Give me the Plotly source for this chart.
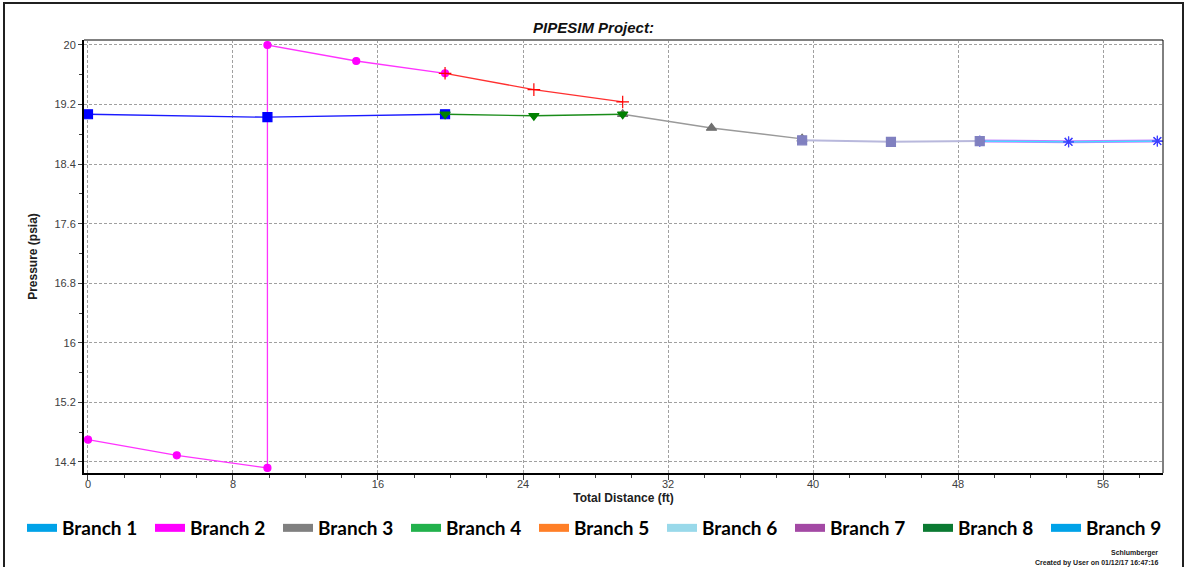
import plotly.graph_objects as go

# Pressure profile along the network (distance in ft, pressure in psia)
b1_x = [0, 9.9, 19.7]
b1_y = [19.07, 19.03, 19.07]

b2_x = [0, 4.9, 9.9, 9.9, 14.8, 19.7]
b2_y = [14.70, 14.49, 14.32, 20.0, 19.785, 19.62]

b5_x = [19.7, 24.6, 29.5]
b5_y = [19.62, 19.40, 19.235]

b4_x = [19.7, 24.6, 29.5]
b4_y = [19.07, 19.05, 19.07]

b3_x = [29.5, 34.4, 39.4]
b3_y = [19.07, 18.885, 18.74]

b6_x = [39.4, 44.3, 49.2]
b6_y = [18.72, 18.70, 18.71]

b7_x = [49.2, 54.1, 59.0]
b7_y = [18.71, 18.70, 18.71]

x_ticks = [0, 8, 16, 24, 32, 40, 48, 56]
y_ticks = [14.4, 15.2, 16.0, 16.8, 17.6, 18.4, 19.2, 20.0]
y_tick_text = ["14.4", "15.2", "16", "16.8", "17.6", "18.4", "19.2", "20"]

legend_names = ["Branch 1", "Branch 2", "Branch 3", "Branch 4", "Branch 5",
                "Branch 6", "Branch 7", "Branch 8", "Branch 9"]
legend_colors = ["#00a2e8", "#ff00ff", "#808080", "#22b14c", "#ff7f27",
                 "#99d9ea", "#a349a4", "#0b7a32", "#00a2e8"]

fig = go.Figure()


def profile(x, y, line_color, marker_color, symbol, size, width=1.3, name=None):
    fig.add_trace(go.Scatter(
        x=x, y=y, mode="lines+markers", name=name, showlegend=False,
        line=dict(color=line_color, width=width),
        marker=dict(color=marker_color, symbol=symbol, size=size,
                    line=dict(width=1.2, color=marker_color)),
        hoverinfo="x+y",
    ))


profile(b2_x, b2_y, "#ff33ff", "#ff00ff", "circle", 7, name="Branch 2")
profile(b5_x, b5_y, "#ff3030", "#ff0000", "cross-thin", 9, name="Branch 5")
profile(b1_x, b1_y, "#1a1aff", "#0000ff", "square", 9, name="Branch 1")
profile(b3_x, b3_y, "#9a9a9a", "#707070", "triangle-up", 9, name="Branch 3")
profile(b4_x, b4_y, "#1a8c1a", "#008000", "triangle-down", 9, name="Branch 4")
profile(b7_x, b7_y, "#c080ff", "#4040ff", "asterisk-open", 9, width=3, name="Branch 7")
profile(b7_x, b7_y, "#40e0ff", "#4040ff", "asterisk-open", 9, width=1.2, name="Branch 9")
profile(b6_x, b6_y, "#b8b8dc", "#8080c0", "square", 9, width=2, name="Branch 6")

# Legend entries (swatches only)
for name, color in zip(legend_names, legend_colors):
    fig.add_trace(go.Scatter(
        x=[None], y=[None], mode="lines", name=name,
        line=dict(color=color, width=8),
    ))

axis_font = dict(family="Liberation Sans, Arial, sans-serif", size=11, color="#404040")
title_font = dict(family="Liberation Sans, Arial, sans-serif", size=12, color="#202020")

fig.update_layout(
    width=1187, height=567,
    margin=dict(l=84, r=24, t=40, b=94),
    paper_bgcolor="white", plot_bgcolor="white",
    title=dict(
        text="<b><i>PIPESIM Project:</i></b>",
        x=0.5, xref="container", xanchor="center", y=1 - 28 / 567, yanchor="middle",
        font=dict(family="Liberation Sans, Arial, sans-serif", size=15, color="#111111"),
    ),
    xaxis=dict(
        range=[-0.22, 59.31], tickvals=x_ticks, ticks="outside", ticklen=5,
        tickcolor="#404040", tickfont=axis_font, ticklabelstandoff=-5,
        minor=dict(dtick=2, ticks="outside", ticklen=3, tickcolor="#404040", showgrid=False),
        showgrid=True, gridcolor="#a0a0a0", gridwidth=1, griddash="3px,2px",
        showline=True, linecolor="black", linewidth=2, zeroline=False,
        title=dict(text="<b>Total Distance (ft)</b>", font=title_font, standoff=4),
    ),
    yaxis=dict(
        range=[14.252, 20.067], tickvals=y_ticks, ticktext=y_tick_text,
        ticks="outside", ticklen=4, tickcolor="#404040", tickfont=axis_font,
        minor=dict(dtick=0.4, tick0=14.4, ticks="outside", ticklen=3,
                   tickcolor="#404040", showgrid=False),
        showgrid=True, gridcolor="#a0a0a0", gridwidth=1, griddash="3px,2px",
        showline=True, linecolor="black", linewidth=2, zeroline=False,
        title=dict(text="<b>Pressure (psia)</b>", font=title_font, standoff=14),
    ),
    legend=dict(
        orientation="h", x=(22 - 84) / 1079, xanchor="left",
        y=-(528 - 473) / 433, yanchor="middle",
        entrywidth=83, entrywidthmode="pixels",
        font=dict(family="Lato, sans-serif", size=19, color="#000000", weight="bold"),
        bgcolor="rgba(0,0,0,0)", itemclick=False,
    ),
    shapes=[
        # top edge of the plot box
        dict(type="line", xref="paper", yref="paper", x0=0, x1=1, y0=1, y1=1,
             line=dict(color="#808080", width=2)),
        # right edge of the plot box
        dict(type="line", xref="paper", yref="paper", x0=1, x1=1, y0=0, y1=1,
             line=dict(color="black", width=1)),
        # outer page frame
        dict(type="rect", xref="paper", yref="paper",
             x0=(4 - 84) / 1079, x1=(1183 - 84) / 1079,
             y0=(473 - 580) / 433, y1=(473 - 3) / 433,
             line=dict(color="#202020", width=2)),
    ],
    annotations=[
        dict(text="<b>Schlumberger</b>", xref="paper", yref="paper",
             x=(1160 - 84) / 1079, y=(473 - 553) / 433, xanchor="right", yanchor="middle",
             showarrow=False, font=dict(family="Liberation Sans, Arial, sans-serif", size=7, color="#202020")),
        dict(text="<b>Created by User on 01/12/17 16:47:16</b>", xref="paper", yref="paper",
             x=(1160 - 84) / 1079, y=(473 - 563) / 433, xanchor="right", yanchor="middle",
             showarrow=False, font=dict(family="Liberation Sans, Arial, sans-serif", size=7, color="#202020")),
    ],
)

fig.write_html("out.html")
